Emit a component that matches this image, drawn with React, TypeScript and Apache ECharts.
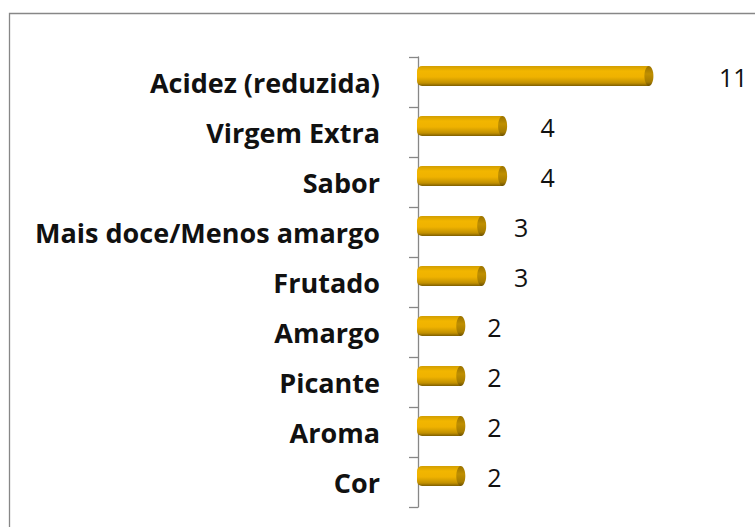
import React, { useEffect, useRef } from "react";
import * as echarts from "echarts";

const categories = [
  "Acidez (reduzida)",
  "Virgem Extra",
  "Sabor",
  "Mais doce/Menos amargo",
  "Frutado",
  "Amargo",
  "Picante",
  "Aroma",
  "Cor",
];
const values = [11, 4, 4, 3, 3, 2, 2, 2, 2];

export default function App() {
  const ref = useRef<HTMLDivElement>(null);
  useEffect(() => {
    if (!ref.current) return;
    const chart = echarts.init(ref.current, null, { renderer: "svg" });
    const renderItem = (params: any, api: any) => {
      const i = api.value(0);
      const v = api.value(1);
      const p0 = api.coord([0, i]);
      const p1 = api.coord([v, i]);
      const cy = p0[1] - 6;
      const h = 20;
      const xs = p0[0] - 1;
      const xe = p1[0] + 1;
      const lx = api.coord([v * 1.27 + 1.12, i])[0];
      return {
        type: "group",
        children: [
          {
            type: "rect",
            shape: { x: xs, y: cy - h / 2, width: xe - xs, height: h, r: [5, 0, 0, 5] },
            style: {
              fill: new echarts.graphic.LinearGradient(0, 0, 0, 1, [
                { offset: 0, color: "#D29E00" },
                { offset: 0.25, color: "#F2B600" },
                { offset: 0.55, color: "#EFB200" },
                { offset: 0.85, color: "#C29000" },
                { offset: 1, color: "#7E5E00" },
              ]),
            },
          },
          {
            type: "ellipse",
            shape: { cx: xe, cy: cy, rx: 4.5, ry: h / 2 },
            style: {
              fill: new echarts.graphic.LinearGradient(0, 0, 0, 1, [
                { offset: 0, color: "#9A7200" },
                { offset: 0.4, color: "#C09000" },
                { offset: 0.8, color: "#A67C00" },
                { offset: 1, color: "#6A4E00" },
              ]),
            },
          },
          {
            type: "text",
            style: {
              text: String(v),
              x: lx,
              y: p0[1] - 5,
              align: "center",
              verticalAlign: "middle",
              fontFamily: "Open Sans",
              fontSize: 25,
              fill: "#111",
            },
          },
        ],
      };
    };
    chart.setOption({
      animation: false,
      graphic: [
        {
          type: "rect",
          shape: { x: 9.5, y: 13.5, width: 800, height: 600 },
          style: { fill: "none", stroke: "#878787", lineWidth: 1.3 },
          silent: true,
        },
      ],
      grid: {
        left: 418,
        right: 2.6,
        top: 57,
        bottom: 20,
        outerBoundsMode: "none",
      },
      xAxis: { type: "value", min: 0, max: 16, show: false },
      yAxis: {
        type: "category",
        inverse: true,
        data: categories,
        offset: 7,
        axisLine: { show: true, lineStyle: { color: "#878787", width: 1.3 } },
        axisTick: { show: true, length: 9, lineStyle: { color: "#878787", width: 1.3 } },
        axisLabel: {
          margin: 31,
          fontFamily: "Open Sans",
          fontWeight: "bold",
          fontSize: 27,
          color: "#111",
          padding: [11, 0, 0, 0],
        },
        splitLine: { show: false },
      },
      series: [
        {
          type: "custom",
          renderItem,
          encode: { x: 1, y: 0 },
          data: values.map((v, i) => [i, v]),
        },
      ],
    });
    return () => chart.dispose();
  }, []);
  return (
    <div
      ref={ref}
      style={{ position: "absolute", left: 0, top: 0, width: 755, height: 527, background: "#fff" }}
    />
  );
}
